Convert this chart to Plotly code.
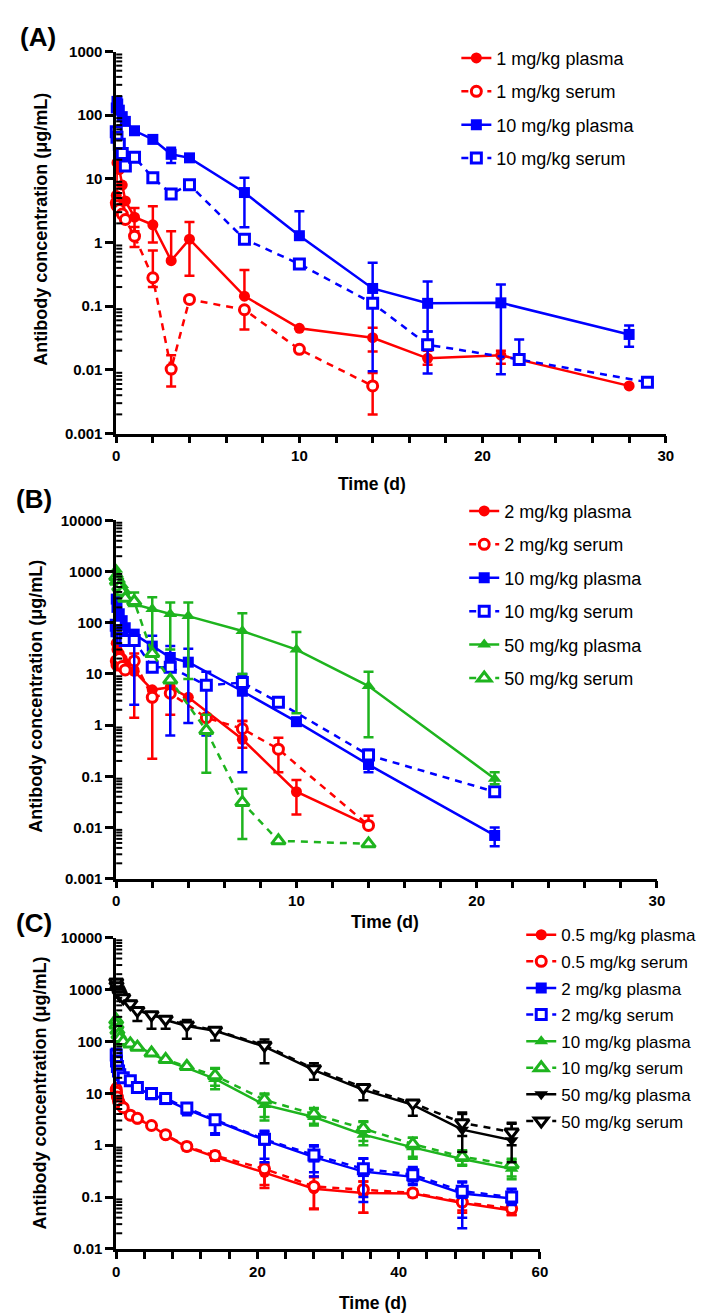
import numpy as np
import plotly.graph_objects as go

# ---------------- Panel A (1 and 10 mg/kg) ----------------
A_t_1p = [0.0035, 0.042, 0.17, 0.33, 0.5, 1, 2, 3, 4, 7, 10, 14, 17, 21, 28]
A_v_1p = [5.5, 18, 14, 8, 4.5, 2.5, 1.9, 0.52, 1.13, 0.144, 0.045, 0.032, 0.0152, 0.017, 0.0056]
A_hi_1p = [None, None, None, None, None, 3.5, 3.7, 1.5, 2.1, 0.37, None, 0.046, 0.02, 0.02, None]
A_lo_1p = [None, None, None, None, None, 1.5, 1.0, None, 0.3, None, None, 0.0195, 0.012, 0.0125, None]

A_t_1s = [0.0035, 0.042, 0.17, 0.33, 0.5, 1, 2, 3, 4, 7, 10, 14]
A_v_1s = [4.2, 3.8, 3.3, 2.8, 2.3, 1.26, 0.28, 0.0103, 0.128, 0.088, 0.021, 0.0056]
A_hi_1s = [None, None, None, None, None, 1.75, 0.75, 0.017, None, None, None, 0.0089]
A_lo_1s = [None, None, None, None, None, 0.85, 0.2, 0.0055, None, 0.043, None, 0.002]

A_t_10p = [0.0035, 0.042, 0.083, 0.17, 0.33, 0.5, 1, 2, 3, 4, 7, 10, 14, 17, 21, 28]
A_v_10p = [130, 165, 150, 120, 95, 80, 57, 41.7, 24.3, 21.4, 6.1, 1.28, 0.19, 0.111, 0.113, 0.036]
A_hi_10p = [None, None, None, None, None, None, None, None, 30.8, None, 10.4, 3.1, 0.48, 0.244, 0.22, 0.05]
A_lo_10p = [None, None, None, None, None, None, None, None, 17.7, None, 1.74, None, 0.0095, 0.04, 0.0085, 0.023]

A_t_10s = [0.0035, 0.042, 0.17, 0.33, 0.5, 1, 2, 3, 4, 7, 10, 14, 17, 22, 29]
A_v_10s = [55, 45, 35, 25, 16, 21.9, 10.4, 5.8, 8.1, 1.13, 0.46, 0.111, 0.0248, 0.0146, 0.0064]
A_hi_10s = [None, None, None, None, None, None, None, None, None, None, None, None, 0.04, 0.03, None]
A_lo_10s = [None, None, None, None, None, None, None, None, None, None, None, None, 0.0088, None, None]

# ---------------- Panel B (2, 10, 50 mg/kg) ----------------
B_t_2p = [0.0035, 0.042, 0.17, 0.33, 0.5, 1, 2, 3, 4, 7, 10, 14]
B_v_2p = [40, 30, 25, 20, 16, 11.3, 4.9, 5.5, 3.5, 0.53, 0.05, 0.011]
B_hi_2p = [None, None, None, None, None, 25, None, None, None, 1.2, 0.085, 0.017]
B_lo_2p = [None, None, None, None, None, 1.4, 0.22, 1.6, None, 0.36, 0.018, None]

B_t_2s = [0.0035, 0.042, 0.17, 0.33, 0.5, 1, 2, 3, 5, 7, 9, 14]
B_v_2s = [18, 15, 20, 14, 12, 18, 3.5, 4.2, 1.4, 0.85, 0.34, 0.011]
B_hi_2s = [None, None, None, None, None, None, None, None, None, 1.2, 0.57, None]
B_lo_2s = [None, None, None, None, None, None, None, None, None, None, 0.12, None]

B_t_10p = [0.0035, 0.042, 0.17, 0.33, 0.5, 1, 2, 3, 4, 7, 10, 14, 21]
B_v_10p = [290, 200, 150, 110, 80, 60, 35, 21, 17, 4.6, 1.17, 0.17, 0.007]
B_hi_10p = [None, None, None, None, None, None, 56, 35, 31, 9, None, 0.3, 0.01]
B_lo_10p = [None, None, None, None, None, 2.5, None, 0.63, 1.1, 0.12, None, 0.12, 0.0043]

B_t_10s = [0.0035, 0.042, 0.17, 0.33, 0.5, 1, 2, 3, 5, 7, 9, 14, 21]
B_v_10s = [90, 70, 60, 50, 45, 45, 13.5, 13.5, 6.0, 6.8, 2.8, 0.26, 0.05]
B_hi_10s = [None, None, None, None, None, None, None, None, 11, 10, 3.5, 0.33, 0.06]
B_lo_10s = [None, None, None, None, None, None, None, None, 0.63, None, None, 0.17, 0.04]

B_t_50p = [0.0035, 0.042, 0.17, 0.33, 0.5, 1, 2, 3, 4, 7, 10, 14, 21]
B_v_50p = [1100, 900, 700, 550, 420, 230, 185, 148, 135, 69, 30, 5.8, 0.09]
B_hi_50p = [None, None, None, None, None, 390, 315, 250, 250, 154, 66, 11, 0.12]
B_lo_50p = [None, None, None, None, None, None, 23, 30, 8, 10, 1.7, 0.58, 0.07]

B_t_50s = [0.0035, 0.042, 0.17, 0.33, 0.5, 1, 2, 3, 5, 7, 9, 14]
B_v_50s = [800, 650, 500, 400, 300, 260, 25, 7.6, 0.79, 0.031, 0.0055, 0.0048]
B_hi_50s = [None, None, None, None, None, None, None, None, 1.6, 0.057, None, None]
B_lo_50s = [None, None, None, None, None, None, None, None, 0.117, 0.006, None, None]

# ---------------- Panel C (0.5, 2, 10, 50 mg/kg) ----------------
C_t = [0.0035, 0.042, 0.17, 0.33, 0.5, 1, 2, 3, 5, 7, 10, 14, 21, 28, 35, 42, 49, 56]

C_v_05p = [13, 11, 9, 7.5, 6.5, 5.5, 3.7, 3.2, 2.4, 1.55, 0.92, 0.6, 0.3, 0.145, 0.12, 0.117, 0.077, 0.055]
C_hi_05p = [None, None, None, None, None, None, None, None, None, None, 1.1, 0.75, 0.42, 0.25, 0.2, 0.14, 0.1, 0.07]
C_lo_05p = [None, None, None, None, None, None, None, None, None, None, 0.8, 0.5, 0.17, 0.058, 0.05, 0.1, 0.05, 0.045]
C_v_05s = [12, 10.5, 8.5, 7, 6.2, 5.3, 3.8, 3.3, 2.4, 1.6, 0.95, 0.63, 0.35, 0.16, 0.14, 0.12, 0.08, 0.06]
C_hi_05s = [None, None, None, None, None, None, None, None, None, None, None, 0.75, 0.45, 0.24, 0.2, None, 0.1, 0.075]
C_lo_05s = [None, None, None, None, None, None, None, None, None, None, None, 0.5, 0.15, 0.06, 0.05, None, 0.055, 0.045]

C_v_2p = [60, 45, 35, 28, 24, 20, 17, 12.6, 9.4, 7.6, 4.9, 3.0, 1.25, 0.59, 0.31, 0.245, 0.117, 0.094]
C_hi_2p = [None, None, None, None, None, None, None, None, None, None, 6.0, 3.7, 1.9, 1.0, 0.56, 0.38, 0.2, 0.145]
C_lo_2p = [None, None, None, None, None, None, None, None, None, None, 3.8, 1.6, 0.47, 0.25, 0.08, 0.17, 0.025, 0.073]
C_v_2s = [55, 42, 33, 27, 23, 20, 17.5, 13, 10, 8, 5.2, 3.1, 1.3, 0.65, 0.35, 0.27, 0.13, 0.1]
C_hi_2s = [None, None, None, None, None, None, None, None, None, None, None, 3.8, 1.8, 0.95, 0.55, 0.36, 0.19, 0.14]
C_lo_2s = [None, None, None, None, None, None, None, None, None, None, None, 1.7, 0.55, 0.3, 0.1, 0.18, 0.04, 0.07]

C_v_10p = [280, 220, 170, 140, 120, 105, 90, 80, 59, 43, 31, 19, 6.0, 3.5, 1.6, 0.91, 0.54, 0.35]
C_hi_10p = [None, None, None, None, None, None, None, None, None, None, None, 31, 9.5, 5.0, 2.8, 1.4, 0.75, 0.52]
C_lo_10p = [None, None, None, None, None, None, None, None, None, None, None, 12, 3.0, 2.4, 1.0, 0.55, 0.4, 0.22]
C_v_10s = [260, 210, 165, 135, 115, 100, 90, 78, 60, 45, 33, 22, 7.5, 4.0, 2.1, 1.05, 0.6, 0.42]
C_hi_10s = [None, None, None, None, None, None, None, None, None, None, None, 30, 10, 5.2, 2.9, 1.4, 0.8, 0.55]
C_lo_10s = [None, None, None, None, None, None, None, None, None, None, None, 14, 3.5, 2.6, 1.2, 0.6, 0.42, 0.25]

C_v_50p = [1500, 1300, 1100, 950, 850, 750, 560, 400, 340, 260, 200, 162, 80, 28, 11.7, 6.0, 2.0, 1.25]
C_hi_50p = [None, None, None, None, None, None, None, None, None, None, 260, 190, 110, 38, 14.5, 7.4, 4.3, 2.7]
C_lo_50p = [None, None, None, None, None, None, None, 250, 177, 177, 114, 105, 38, 18.4, 7.4, 3.7, 0.74, 0.47]
C_v_50s = [1400, 1200, 1000, 900, 800, 700, 540, 400, 330, 270, 210, 165, 85, 30, 13, 6.5, 2.7, 1.8]
C_hi_50s = [None, None, None, None, None, None, None, None, None, None, None, None, None, None, None, None, 4.0, 2.6]
C_lo_50s = [None, None, None, None, None, None, None, None, None, None, None, None, None, None, None, None, 1.5, 1.0]

# tick labels
Y_TICKS_A = ["0.001", "0.01", "0.1", "1", "10", "100", "1000"]
Y_TICKS_B = ["0.001", "0.01", "0.1", "1", "10", "100", "1000", "10000"]
Y_TICKS_C = ["0.01", "0.1", "1", "10", "100", "1000", "10000"]

# ---------------- styling ----------------
W, H = 709, 1315
FONT = "Liberation Sans, Arial, sans-serif"
RED, BLUE, GREEN, BLACK = "#FF0000", "#0000FF", "#1EB41E", "#000000"


def px_x(p):
    return p / W


def px_y(p):
    return 1 - p / H


fig = go.Figure()


def arr(vals):
    return np.array([np.nan if v is None else v for v in vals], dtype=float)


def add(t, v, hi, lo, name, color, symbol, filled, axis, legend, size=11):
    v_a = np.array(v, dtype=float)
    up = arr(hi) - v_a
    dn = v_a - arr(lo)
    fig.add_trace(go.Scatter(
        x=np.array(t, dtype=float), y=v_a, mode="lines+markers", name=name,
        xaxis="x" + axis, yaxis="y" + axis, legend=legend, legendgroup=legend + name,
        line=dict(color=color, width=2.5, dash=None if filled else "7px,6px"),
        marker=dict(symbol=symbol, size=size if filled else size - 1,
                    color=color if filled else "white",
                    line=dict(color=color, width=0 if filled else 3)),
        error_y=dict(type="data", symmetric=False, array=up, arrayminus=dn,
                     color=color, thickness=2.5, width=5),
        cliponaxis=False,
    ))


# Panel A
add(A_t_1p, A_v_1p, A_hi_1p, A_lo_1p, "1 mg/kg plasma", RED, "circle", True, "", "legend")
add(A_t_1s, A_v_1s, A_hi_1s, A_lo_1s, "1 mg/kg serum", RED, "circle", False, "", "legend")
add(A_t_10p, A_v_10p, A_hi_10p, A_lo_10p, "10 mg/kg plasma", BLUE, "square", True, "", "legend")
add(A_t_10s, A_v_10s, A_hi_10s, A_lo_10s, "10 mg/kg serum", BLUE, "square", False, "", "legend")

# Panel B
add(B_t_2p, B_v_2p, B_hi_2p, B_lo_2p, "2 mg/kg plasma", RED, "circle", True, "2", "legend2")
add(B_t_2s, B_v_2s, B_hi_2s, B_lo_2s, "2 mg/kg serum", RED, "circle", False, "2", "legend2")
add(B_t_10p, B_v_10p, B_hi_10p, B_lo_10p, "10 mg/kg plasma", BLUE, "square", True, "2", "legend2")
add(B_t_10s, B_v_10s, B_hi_10s, B_lo_10s, "10 mg/kg serum", BLUE, "square", False, "2", "legend2")
add(B_t_50p, B_v_50p, B_hi_50p, B_lo_50p, "50 mg/kg plasma", GREEN, "triangle-up", True, "2", "legend2", 12)
add(B_t_50s, B_v_50s, B_hi_50s, B_lo_50s, "50 mg/kg serum", GREEN, "triangle-up", False, "2", "legend2", 13)

# Panel C
add(C_t, C_v_05p, C_hi_05p, C_lo_05p, "0.5 mg/kg plasma", RED, "circle", True, "3", "legend3")
add(C_t, C_v_05s, C_hi_05s, C_lo_05s, "0.5 mg/kg serum", RED, "circle", False, "3", "legend3")
add(C_t, C_v_2p, C_hi_2p, C_lo_2p, "2 mg/kg plasma", BLUE, "square", True, "3", "legend3")
add(C_t, C_v_2s, C_hi_2s, C_lo_2s, "2 mg/kg serum", BLUE, "square", False, "3", "legend3")
add(C_t, C_v_10p, C_hi_10p, C_lo_10p, "10 mg/kg plasma", GREEN, "triangle-up", True, "3", "legend3", 12)
add(C_t, C_v_10s, C_hi_10s, C_lo_10s, "10 mg/kg serum", GREEN, "triangle-up", False, "3", "legend3", 13)
add(C_t, C_v_50p, C_hi_50p, C_lo_50p, "50 mg/kg plasma", BLACK, "triangle-down", True, "3", "legend3", 12)
add(C_t, C_v_50s, C_hi_50s, C_lo_50s, "50 mg/kg serum", BLACK, "triangle-down", False, "3", "legend3", 13)

tickfont = dict(family=FONT, size=15, color="black", weight="bold")


def xax(left, right, rng, dtick, minor):
    return dict(domain=[px_x(left), px_x(right)], range=rng, showline=True, linewidth=2.5,
                linecolor="black", showgrid=False, zeroline=False, ticks="outside",
                ticklen=7, tickwidth=2.5, tickcolor="black", dtick=dtick, tick0=0,
                tickfont=tickfont, fixedrange=True,
                minor=dict(ticks="outside", ticklen=7, tickwidth=2.5, tickcolor="black",
                           dtick=minor, showgrid=False))


def yax(top, bottom, labels):
    vals = [float(s) for s in labels]
    lo, hi = np.log10(vals[0]), np.log10(vals[-1])
    return dict(domain=[px_y(bottom), px_y(top)], type="log", range=[lo, hi], showline=True,
                linewidth=2.5, linecolor="black", showgrid=False, zeroline=False,
                ticks="outside", ticklen=8, tickwidth=2.5, tickcolor="black",
                tickmode="array", tickvals=vals, ticktext=labels,
                tickfont=tickfont, fixedrange=True)


# minor log ticks (2..9 in every decade): short strokes on the inner side of each y axis
shapes = []
for xr, yr, labels in [("x domain", "y domain", Y_TICKS_A),
                       ("x2 domain", "y2 domain", Y_TICKS_B),
                       ("x3 domain", "y3 domain", Y_TICKS_C)]:
    vals = [float(s) for s in labels]
    lo, hi = np.log10(vals[0]), np.log10(vals[-1])
    for v in vals[:-1]:
        for m in range(2, 10):
            f = float((np.log10(m * v) - lo) / (hi - lo))
            shapes.append(dict(type="line", xref=xr, yref=yr, xsizemode="pixel", xanchor=0,
                               x0=0, x1=6, y0=f, y1=f,
                               line=dict(color="black", width=2), layer="above"))


def legend(x, y, gap, size):
    return dict(x=px_x(x), y=px_y(y), xanchor="left", yanchor="top",
                font=dict(family=FONT, size=size, color="black"),
                traceorder="grouped", tracegroupgap=gap, bgcolor="rgba(0,0,0,0)",
                itemwidth=30)


ann = []
for (lab, x, y) in [("(A)", 26, 20), ("(B)", 22, 488), ("(C)", 22, 918)]:
    ann.append(dict(text=lab, x=px_x(x), y=px_y(y), xref="paper", yref="paper",
                    xanchor="center", yanchor="middle", showarrow=False,
                    font=dict(family=FONT, size=26, color="black", weight="bold")))
for (x, y) in [(366, 473), (379, 917), (367, 1303)]:
    ann.append(dict(text="Time (d)", x=px_x(x), y=px_y(y), xref="paper", yref="paper",
                    xanchor="center", yanchor="middle", showarrow=False,
                    font=dict(family=FONT, size=17.5, color="black", weight="bold")))
for (x, y) in [(30, 215), (25, 688), (28, 1090)]:
    ann.append(dict(text="Antibody concentration (μg/mL)", x=px_x(x), y=px_y(y),
                    xref="paper", yref="paper", xanchor="center", yanchor="middle",
                    showarrow=False, textangle=-90,
                    font=dict(family=FONT, size=18, color="black", weight="bold")))

fig.update_layout(
    width=W, height=H, margin=dict(l=0, r=0, t=0, b=0),
    paper_bgcolor="white", plot_bgcolor="white",
    xaxis=dict(xax(106, 665, [0, 30], 10, 2), anchor="y"),
    yaxis=dict(yax(35, 422, Y_TICKS_A), anchor="x"),
    xaxis2=dict(xax(106, 656, [0, 30], 10, 2), anchor="y2"),
    yaxis2=dict(yax(510, 873, Y_TICKS_B), anchor="x2"),
    xaxis3=dict(xax(106, 537, [0, 60], 20, 4), anchor="y3"),
    yaxis3=dict(yax(933, 1248, Y_TICKS_C), anchor="x3"),
    legend=legend(452, 23, 7, 18),
    legend2=legend(460, 482, 7, 18),
    legend3=legend(518, 912, 1.5, 17),
    annotations=ann,
    shapes=shapes,
    showlegend=True,
)

fig.write_html("out.html")
